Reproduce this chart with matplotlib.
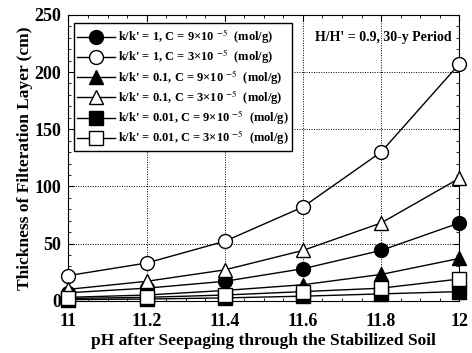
import matplotlib
matplotlib.use("Agg")
from matplotlib import pyplot as plt
from matplotlib.ticker import MultipleLocator

plt.rcParams["font.family"] = ["Liberation Serif", "DejaVu Serif"]
plt.rcParams["mathtext.fontset"] = "stix"

ph = [11.0, 11.2, 11.4, 11.6, 11.8, 12.0]
# thickness of filteration layer (cm)
k1_c9 = [7, 11, 17, 28, 44, 68]
k1_c3 = [22, 33, 52, 82, 130, 207]
k01_c9 = [3, 5, 9, 14, 23, 37]
k01_c3 = [10, 17, 27, 44, 68, 107]
k001_c9 = [1, 1.5, 2.5, 4, 6, 8]
k001_c3 = [2, 3, 5, 8, 11, 19]

xticks = [11.0, 11.2, 11.4, 11.6, 11.8, 12.0]
xtick_labels = ["11", "11.2", "11.4", "11.6", "11.8", "12"]

labels = [
    "k/k' = 1, C = 9\u00d710 $^{-5}$  (mol/g)",
    "k/k' = 1, C = 3\u00d710 $^{-5}$  (mol/g)",
    "k/k' = 0.1, C = 9\u00d710 $^{-5}$  (mol/g)",
    "k/k' = 0.1, C = 3\u00d710 $^{-5}$  (mol/g)",
    "k/k' = 0.01, C = 9\u00d710 $^{-5}$  (mol/g)",
    "k/k' = 0.01, C = 3\u00d710 $^{-5}$  (mol/g)",
]
series = [k1_c9, k1_c3, k01_c9, k01_c3, k001_c9, k001_c3]
markers = ["o", "o", "^", "^", "s", "s"]
fills = ["black", "white", "black", "white", "black", "white"]

fig = plt.figure(figsize=(4.72, 3.53), dpi=100)
ax = fig.add_axes([0.145, 0.148, 0.828, 0.81])

for ys, m, fc, lab in zip(series, markers, fills, labels):
    ax.plot(ph, ys, color="black", linewidth=1.0, marker=m, markersize=10,
            markerfacecolor=fc, markeredgecolor="black", markeredgewidth=1.0,
            label=lab, clip_on=False, zorder=3)

ax.set_xlim(11, 12)
ax.set_ylim(0, 250)
ax.set_xticks(xticks)
ax.set_xticklabels(xtick_labels)
ax.xaxis.set_minor_locator(MultipleLocator(0.05))
ax.yaxis.set_major_locator(MultipleLocator(50))
ax.yaxis.set_minor_locator(MultipleLocator(10))
ax.tick_params(which="both", direction="in", top=True, right=True)
ax.tick_params(which="major", length=4, labelsize=13)
ax.tick_params(axis="x", which="major", pad=9)
ax.tick_params(axis="y", which="major", pad=5)
ax.tick_params(which="minor", length=2)
ax.grid(True, which="major", linestyle=(0, (1, 1.5)), color="black", linewidth=0.7)
for t in ax.get_xticklabels() + ax.get_yticklabels():
    t.set_fontweight("bold")

ax.set_xlabel("pH after Seepaging through the Stabilized Soil", fontsize=12.5,
              fontweight="bold", labelpad=2)
ax.set_ylabel("Thickness of Filteration Layer (cm)", fontsize=12.5,
              fontweight="bold", labelpad=1)

ax.text(0.806, 0.92, "H/H' = 0.9, 30-y Period", transform=ax.transAxes,
        fontsize=10, fontweight="bold", ha="center", va="center")

leg = ax.legend(loc="upper left", prop={"size": 9, "weight": "bold"}, frameon=True,
                fancybox=False, edgecolor="black", framealpha=1, borderpad=0.3,
                labelspacing=0.12, handlelength=3.0, handletextpad=0.25,
                borderaxespad=0, bbox_to_anchor=(0.013, 0.97))
leg.get_frame().set_linewidth(1.0)

fig.savefig("out.png", dpi=100)
